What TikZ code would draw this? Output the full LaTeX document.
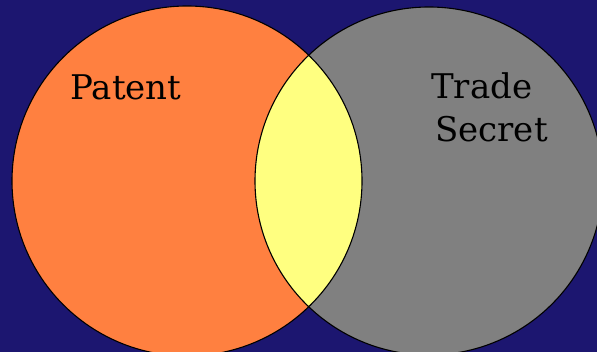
\documentclass[tikz,border=0pt]{standalone}
\usepackage{fontspec}
\setmainfont{DejaVu Serif}
\usepackage{tikz}
\usetikzlibrary{positioning}

\definecolor{navybg}{RGB}{28,22,112}
\definecolor{patentorange}{RGB}{255,128,64}
\definecolor{secretgray}{RGB}{128,128,128}
\definecolor{lensyellow}{RGB}{255,255,128}

\begin{document}
\begin{tikzpicture}[
  x=1pt, y=-1pt,
  outline/.style={draw=black, line width=1.1pt},
  lbl/.style={font=\fontsize{34}{43}\selectfont, text=black, inner sep=0pt, align=left},
]
\fill[navybg] (0,0) rectangle (597,352);
\useasboundingbox (0,0) rectangle (597,352);

\coordinate (patentc) at (187,181);
\coordinate (secretc) at (429,181);

\fill[patentorange] (patentc) circle[radius=175];
\fill[secretgray]   (secretc) circle[radius=174];
\begin{scope}
  \clip (patentc) circle[radius=175];
  \fill[lensyellow] (secretc) circle[radius=174];
\end{scope}
\draw[outline] (patentc) circle[radius=175];
\draw[outline] (secretc) circle[radius=174];

\node[lbl, anchor=base] (patent) at (126,100) {Patent};
\node[lbl, anchor=north west] (trade) at (431,72) {Trade\\\hspace{4pt}Secret};
\end{tikzpicture}
\end{document}
